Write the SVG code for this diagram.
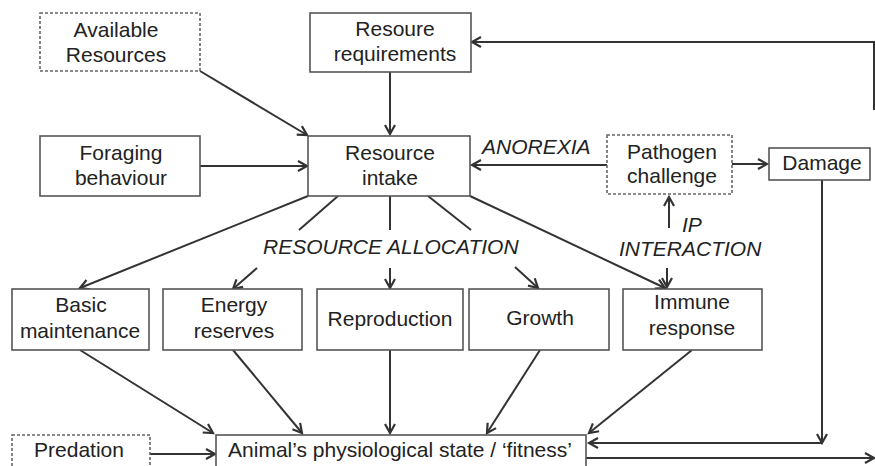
<svg xmlns="http://www.w3.org/2000/svg" width="875" height="466" viewBox="0 0 875 466">
<style>
.box{fill:#fff;stroke:#555;stroke-width:1.6}
.dbox{fill:#fff;stroke:#666;stroke-width:1.6;stroke-dasharray:3 2}
.t{font-family:"Liberation Sans",Arial,sans-serif;font-size:21px;fill:#222;text-anchor:middle}
.it{font-family:"Liberation Sans",Arial,sans-serif;font-size:21px;fill:#222;font-style:italic}
.ln{fill:none;stroke:#333;stroke-width:2}
.ar{fill:none;stroke:#333;stroke-width:2;marker-end:url(#ah)}
</style>
<defs>
<marker id="ah" markerUnits="userSpaceOnUse" markerWidth="14" markerHeight="14" refX="11" refY="6" orient="auto" viewBox="0 0 14 12">
<path d="M2,1 L11,6 L2,11" fill="none" stroke="#333" stroke-width="2.2" stroke-linejoin="miter"/>
</marker>
</defs>
<rect width="875" height="466" fill="#fff"/>
<g id="connectors">
<path class="ar" d="M200,71 L307,135"/>
<path class="ar" d="M390,72 V134"/>
<path class="ar" d="M874,110 V42 H472"/>
<path class="ar" d="M200,166 H307"/>
<path class="ar" d="M607,165 H472"/>
<path class="ar" d="M732,164 H767"/>
<path class="ar" d="M822,180 V443"/>
<path class="ar" d="M822,443 H589"/>
<path class="ar" d="M669,228 V197"/>
<path class="ar" d="M667,268 V287"/>
<path class="ar" d="M308,196 L80,288"/>
<path class="ar" d="M470,196 L665,288"/>
<path class="ln" d="M338,196 L299,230"/>
<path class="ar" d="M257,268 L233,289"/>
<path class="ln" d="M390,196 V230"/>
<path class="ar" d="M390,268 V288"/>
<path class="ln" d="M428,196 L471,230"/>
<path class="ar" d="M515,267 L538,288"/>
<path class="ar" d="M80,350 L213,433"/>
<path class="ar" d="M233,350 L302,433"/>
<path class="ar" d="M390,350 V433"/>
<path class="ar" d="M540,350 L487,433"/>
<path class="ar" d="M692,350 L589,433"/>
<path class="ar" d="M150,454 H215"/>
<path class="ar" d="M586,458 H874"/>
</g>
<g id="labels">
<text class="it" x="482" y="154">ANOREXIA</text>
<text class="it" x="263" y="254">RESOURCE ALLOCATION</text>
<text class="it" x="682" y="232">IP</text>
<text class="it" x="619" y="256">INTERACTION</text>
</g>
<g id="available-resources">
<rect class="dbox" x="40" y="13" width="160" height="58"/>
<text class="t" x="116" y="37">Available</text>
<text class="t" x="116" y="62">Resources</text>
</g>
<g id="resource-requirements">
<rect class="box" x="310" y="13" width="161" height="59"/>
<text class="t" x="395" y="36">Resoure</text>
<text class="t" x="395" y="61">requirements</text>
</g>
<g id="foraging-behaviour">
<rect class="box" x="40" y="136" width="160" height="60"/>
<text class="t" x="121" y="160">Foraging</text>
<text class="t" x="121" y="185">behaviour</text>
</g>
<g id="resource-intake">
<rect class="box" x="308" y="136" width="162" height="60"/>
<text class="t" x="390" y="160">Resource</text>
<text class="t" x="390" y="185">intake</text>
</g>
<g id="pathogen-challenge">
<rect class="dbox" x="607" y="135" width="125" height="59"/>
<text class="t" x="672" y="159">Pathogen</text>
<text class="t" x="672" y="183">challenge</text>
</g>
<g id="damage">
<rect class="box" x="769" y="148" width="101" height="32"/>
<text class="t" x="822" y="170">Damage</text>
</g>
<g id="basic-maintenance">
<rect class="box" x="12" y="289" width="137" height="61"/>
<text class="t" x="81" y="312">Basic</text>
<text class="t" x="80" y="338">maintenance</text>
</g>
<g id="energy-reserves">
<rect class="box" x="163" y="289" width="139" height="61"/>
<text class="t" x="234" y="312">Energy</text>
<text class="t" x="234" y="338">reserves</text>
</g>
<g id="reproduction">
<rect class="box" x="317" y="289" width="146" height="61"/>
<text class="t" x="390" y="326">Reproduction</text>
</g>
<g id="growth">
<rect class="box" x="469" y="289" width="140" height="61"/>
<text class="t" x="540" y="325">Growth</text>
</g>
<g id="immune-response">
<rect class="box" x="623" y="289" width="139" height="61"/>
<text class="t" x="692" y="309">Immune</text>
<text class="t" x="692" y="335">response</text>
</g>
<g id="predation">
<rect class="dbox" x="12" y="435" width="138" height="45"/>
<text class="t" x="79" y="457">Predation</text>
</g>
<g id="fitness">
<rect class="box" x="216" y="435" width="370" height="45"/>
<text class="t" x="400" y="457">Animal’s physiological state / ‘fitness’</text>
</g>
</svg>
